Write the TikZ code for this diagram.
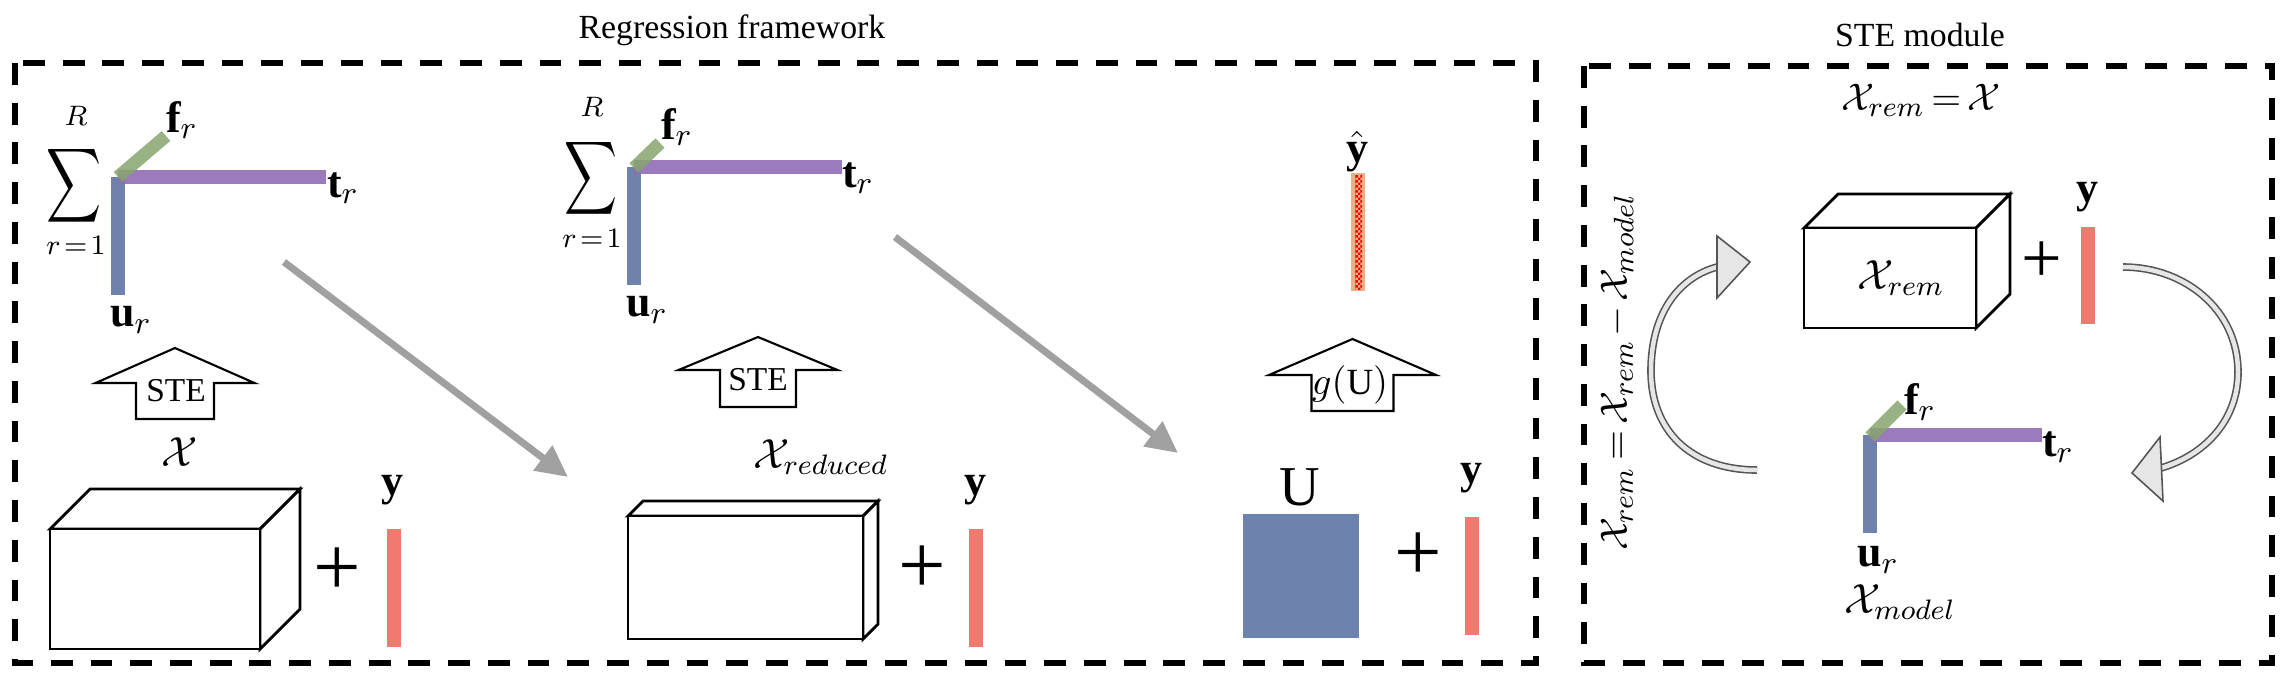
\documentclass[tikz,border=0pt]{standalone}
\usepackage{fontspec}
\setmainfont{Liberation Serif}
\usepackage{graphicx}
\usetikzlibrary{arrows.meta,patterns.meta}

\definecolor{barblue}{HTML}{667BA8}
\definecolor{ublue}{HTML}{6D83AE}
\definecolor{barpurple}{HTML}{906DB4}
\definecolor{bargreen}{HTML}{86A46E}
\definecolor{yred}{HTML}{F17A70}
\definecolor{yhatorange}{HTML}{ECB088}
\definecolor{arrgray}{HTML}{A0A0A0}
\definecolor{circfill}{HTML}{E6E6E6}
\definecolor{circdraw}{HTML}{555555}

\tikzdeclarepattern{
  name=finecheck,
  type=uncolored,
  bounding box={(0pt,0pt) and (1.4pt,1.4pt)},
  tile size={(1.4pt,1.4pt)},
  code={
    \pgfpathrectangle{\pgfpointorigin}{\pgfpoint{0.7pt}{0.7pt}}
    \pgfpathrectangle{\pgfpoint{0.7pt}{0.7pt}}{\pgfpoint{0.7pt}{0.7pt}}
    \pgfusepath{fill}
  }
}

\tikzset{
  dashbox/.style={draw, line width=1.6pt, dash pattern=on 6.2pt off 5.1pt},
  cube/.style={draw, line width=0.8pt, fill=white, line join=miter},
  blockarrow/.style={draw, line width=0.6pt, fill=white, line join=miter},
  grayarrow/.style={draw=arrgray, line width=2pt, -{Triangle[length=9pt,width=8.5pt]}},
  circarrow/.style={draw=circdraw, line width=0.45pt, double=circfill, double distance=0.045cm},
  circhead/.style={draw=circdraw, line width=0.45pt, fill=circfill, line join=miter},
  title/.style={font=\fontsize{9.6}{11}\selectfont, inner sep=0pt},
  stetxt/.style={font=\fontsize{9.5}{11}\selectfont, inner sep=0pt},
  vlab/.style={font=\fontsize{12.5}{14}\selectfont, inner sep=0pt},
  xlab/.style={font=\fontsize{12}{14}\selectfont, inner sep=0pt},
  limlab/.style={font=\fontsize{8}{9}\selectfont, inner sep=0pt},
  pluslab/.style={font=\fontsize{24}{26}\selectfont, inner sep=0pt},
  ylab/.style={font=\fontsize{12.5}{14}\selectfont\bfseries, inner sep=0pt},
  bluebar/.style={fill=barblue, opacity=0.95},
  purplebar/.style={fill=barpurple, opacity=0.9},
  greenbar/.style={draw=bargreen, line width=3.7pt, opacity=0.85},
}

\newcommand{\mycuboid}[6]{%
  \draw[cube] (#1,#2) -- ++(#5,#6) -- ++(#3-#1,0) -- (#3,#2) -- cycle;
  \draw[cube] (#3,#2) -- ++(#5,#6) -- ++(0,#4-#2) -- (#3,#4) -- cycle;
  \draw[cube] (#1,#2) rectangle (#3,#4);
}
% center x, tip y, wing y, bottom y, half wing, half stem
\newcommand{\myupblock}[6]{%
  \draw[blockarrow] (#1,#2) -- (#1+#5,#3) -- (#1+#6,#3) -- (#1+#6,#4)
    -- (#1-#6,#4) -- (#1-#6,#3) -- (#1-#5,#3) -- cycle;
}

\begin{document}
\begin{tikzpicture}[x=0.01cm, y=-0.01cm]
\useasboundingbox (0,0) rectangle (2284,678);

% titles and frames
\node[title] (t1) at (732,30) {Regression framework};
\node[title] (t2) at (1920,35) {STE module};
\draw[dashbox] (15,63) rectangle (1536,663);
\draw[dashbox] (1584,66) rectangle (2272,663);

% ---------------- group 1 ----------------
\node[inner sep=0pt] (sum1) at (74,186) {\resizebox*{0.55cm}{0.83cm}{$\displaystyle\sum$}};
\node[limlab] (R1) at (76,116) {$R$};
\node[limlab] (r1) at (76,245) {\thickmuskip=2mu$r=1$};
\fill[bluebar] (111,177) rectangle (125,295);
\fill[purplebar] (118,170) rectangle (326,184);
\draw[greenbar] (118,177) -- (166,136);
\node[vlab] (fr1) at (182,120) {$\mathbf{f}_r$};
\node[vlab] (tr1) at (343,188) {$\mathbf{t}_r$};
\node[vlab] (ur1) at (131,320) {$\mathbf{u}_r$};

\myupblock{175}{348}{383}{419}{79.5}{39}
\node[stetxt] (ste1) at (176,391) {STE};
\node[xlab] (X1) at (180,452) {$\mathcal{X}$};
\mycuboid{50}{529}{260}{649}{40}{-40}
\node[pluslab] (p1) at (337,572) {+};
\node[fill=yred, minimum width=0.14cm, minimum height=1.18cm, inner sep=0pt] (yb1) at (394,588) {};
\node[ylab] (y1) at (392,490) {y};

\coordinate (a1s) at (284,262);
\coordinate (a1e) at (568,477);
\draw[grayarrow] (a1s) -- (a1e);

% ---------------- group 2 ----------------
\node[inner sep=0pt] (sum2) at (591,178) {\resizebox*{0.53cm}{0.82cm}{$\displaystyle\sum$}};
\node[limlab] (R2) at (592,107) {$R$};
\node[limlab] (r2) at (592,238) {\thickmuskip=2mu$r=1$};
\fill[bluebar] (627,167) rectangle (641,285);
\fill[purplebar] (634,160) rectangle (842,174);
\draw[greenbar] (634,168) -- (660,143);
\node[vlab] (fr2) at (677,127) {$\mathbf{f}_r$};
\node[vlab] (tr2) at (858,178) {$\mathbf{t}_r$};
\node[vlab] (ur2) at (647,310) {$\mathbf{u}_r$};

\myupblock{758}{337}{370}{407}{79.5}{38}
\node[stetxt] (ste2) at (758,380) {STE};
\node[xlab] (X2) at (821,457) {$\mathcal{X}_{reduced}$};
\mycuboid{628}{516}{863}{639}{15}{-15}
\node[pluslab] (p2) at (922,570) {+};
\node[fill=yred, minimum width=0.14cm, minimum height=1.18cm, inner sep=0pt] (yb2) at (976,588) {};
\node[ylab] (y2) at (975,490) {y};

\coordinate (a2s) at (895,237);
\coordinate (a2e) at (1178,453);
\draw[grayarrow] (a2s) -- (a2e);

% ---------------- group 3 ----------------
\node[vlab] (yhat) at (1357,152) {$\hat{\mathbf{y}}$};
\node[fill=yhatorange, minimum width=0.14cm, minimum height=1.18cm, inner sep=0pt] (yhb) at (1358,232) {};
\fill[pattern=finecheck, pattern color=red] (1355,175) rectangle (1362,289);
\myupblock{1352.5}{339}{375}{411}{83.5}{41}
\node[font=\fontsize{10.5}{12}\selectfont, inner sep=0pt] (gU) at (1350,385) {$g(\mathrm{U})$};
\node[font=\fontsize{16}{18}\selectfont, inner sep=0pt] (Ulab) at (1300,487) {U};
\node[fill=ublue, minimum width=1.16cm, minimum height=1.24cm, inner sep=0pt] (Usq) at (1301,576) {};
\node[pluslab] (p3) at (1418,557) {+};
\node[fill=yred, minimum width=0.14cm, minimum height=1.18cm, inner sep=0pt] (yb3) at (1472,576) {};
\node[ylab] (y3) at (1471,478) {y};

% ---------------- STE module ----------------
\node[font=\fontsize{11}{13}\selectfont, inner sep=0pt] (xrem0) at (1921,100) {\thickmuskip=3mu$\mathcal{X}_{rem}=\mathcal{X}$};
\mycuboid{1804}{228}{1976}{328}{34}{-34}
\node[xlab] (xrem) at (1901,278) {$\mathcal{X}_{rem}$};
\node[font=\fontsize{20.5}{22}\selectfont, inner sep=0pt] (p4) at (2042,262) {+};
\node[fill=yred, minimum width=0.14cm, minimum height=0.97cm, inner sep=0pt] (yb4) at (2088,275.5) {};
\node[ylab] (y4) at (2087,197) {y};

\fill[bluebar] (1863,435) rectangle (1877,533);
\fill[purplebar] (1870,428) rectangle (2042,442);
\draw[greenbar] (1870,437) -- (1902,405);
\node[vlab] (fr3) at (1920,402) {$\mathbf{f}_r$};
\node[vlab] (tr3) at (2058,447) {$\mathbf{t}_r$};
\node[vlab] (ur3) at (1878,560) {$\mathbf{u}_r$};
\node[xlab] (xmodel) at (1900,602) {$\mathcal{X}_{model}$};

\node[font=\fontsize{11}{13}\selectfont, inner sep=0pt, rotate=90] (upd) at (1617,372)
  {\thickmuskip=3mu\medmuskip=2mu$\mathcal{X}_{rem}=\mathcal{X}_{rem}-\mathcal{X}_{model}$};

% left circular arrow (up and to the right)
\coordinate (lt) at (1757,470);
\coordinate (lh) at (1717,267);
\draw[circarrow] (lt) .. controls (1690,470) and (1651,430) .. (1651,371)
  .. controls (1651,312) and (1680,277) .. (lh);
\draw[circhead] (1717,236) -- (1750,262) -- (1717,298) -- cycle;

% right circular arrow (down and to the left)
\coordinate (rt) at (2123,267);
\coordinate (rh) at (2161,468);
\draw[circarrow] (rt) .. controls (2185,267) and (2238,310) .. (2238,372)
  .. controls (2238,420) and (2205,455) .. (rh);
\draw[circhead] (2160,437) -- (2132,473) -- (2163,501) -- cycle;

\end{tikzpicture}
\end{document}
